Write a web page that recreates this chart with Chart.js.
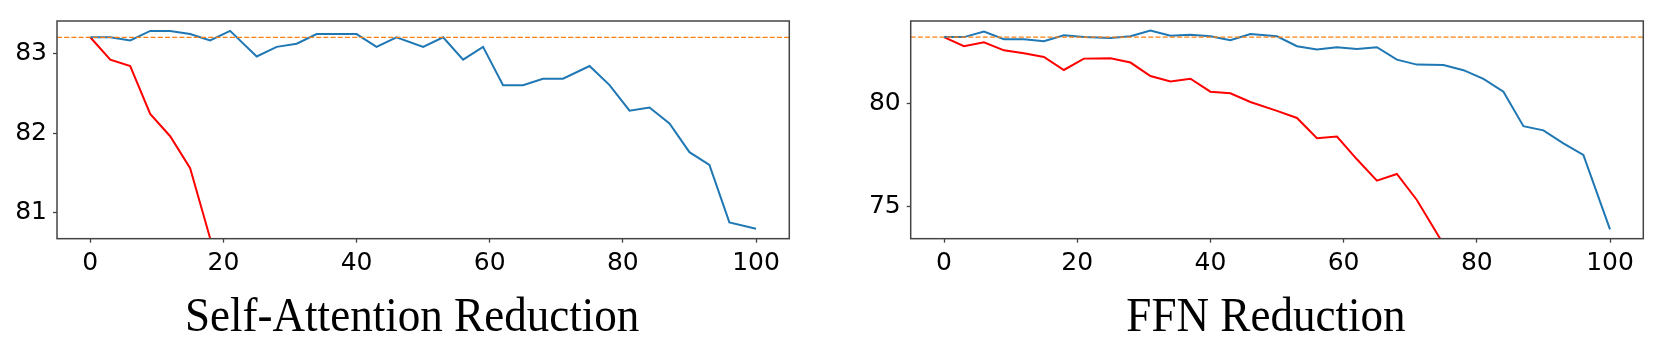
<!DOCTYPE html>
<html><head><meta charset="utf-8">
<script src="https://cdn.jsdelivr.net/npm/chart.js@4.4.0/dist/chart.umd.min.js"></script>
<style>
html,body{margin:0;padding:0;background:#fff;}
#wrap{position:relative;width:1661px;height:344px;overflow:hidden;}
canvas{position:absolute;top:0;}
</style></head><body>
<div id="wrap">
<canvas id="c1" width="830" height="344" style="left:0"></canvas>
<canvas id="c2" width="831" height="344" style="left:830px"></canvas>
</div>
<script>
// ---- data ----
const reductionPct = [0,3,6,9,12,15,18,21,25,28,31,34,37,40,43,46,50,53,56,59,62,65,68,71,75,78,81,84,87,90,93,96,100];
const saBlue = [83.20,83.20,83.16,83.28,83.28,83.24,83.16,83.28,82.96,83.08,83.12,83.24,83.24,83.24,83.08,83.20,83.08,83.20,82.92,83.08,82.60,82.60,82.68,82.68,82.84,82.60,82.28,82.32,82.12,81.76,81.60,80.88,80.80];
const saRed = [83.20,82.92,82.84,82.24,81.96,81.56,80.68];
const ffnBlue = [83.20,83.20,83.47,83.10,83.10,83.00,83.29,83.21,83.16,83.24,83.52,83.27,83.32,83.24,83.05,83.35,83.24,82.76,82.60,82.71,82.63,82.71,82.11,81.87,81.85,81.60,81.18,80.56,78.89,78.69,78.06,77.50,73.90];
const ffnRed = [83.20,82.76,82.95,82.56,82.42,82.24,81.61,82.16,82.18,81.97,81.32,81.05,81.19,80.56,80.48,80.06,79.63,79.29,78.31,78.39,77.29,76.26,76.58,75.32,73.18];
const baselineAcc = 83.2;
const xTickValues = [0,20,40,60,80,100];
const saYTicks = [81,82,83];
const ffnYTicks = [75,80];
const saTitle = "Self-Attention Reduction";
const ffnTitle = "FFN Reduction";

function pts(ys){ return ys.map((y,i)=>({x:reductionPct[i], y:y})); }

const decor = {
  id:'decor',
  afterDatasetsDraw(chart, args, o){
    const ctx = chart.ctx, a = chart.chartArea, ys = chart.scales.y;
    const py = ys.getPixelForValue(o.baseline);
    ctx.save();
    ctx.strokeStyle = '#ff7f0e'; ctx.lineWidth = 1.3; ctx.setLineDash([5,2.2]);
    ctx.beginPath(); ctx.moveTo(a.left, py); ctx.lineTo(a.right, py); ctx.stroke();
    ctx.restore();
    ctx.save();
    ctx.strokeStyle = '#444'; ctx.lineWidth = 1.5;
    ctx.strokeRect(a.left, a.top, a.right-a.left, a.bottom-a.top);
    ctx.restore();
  },
  afterDraw(chart, args, o){
    const ctx = chart.ctx, a = chart.chartArea;
    ctx.save();
    ctx.fillStyle = '#000';
    ctx.font = '49px "Liberation Serif", "Times New Roman", serif';
    ctx.textAlign = 'center'; ctx.textBaseline = 'alphabetic';
    ctx.translate((a.left+a.right)/2 - 11, 330.7);
    ctx.scale(0.92, 1);
    ctx.fillText(o.title, 0, 0);
    ctx.restore();
  }
};

function makeChart(id, blue, red, yTicks, ymin, ymax, title, yW, padR){
  return new Chart(document.getElementById(id), {
    type:'line',
    data:{ datasets:[
      {data:pts(blue), borderColor:'#1f77b4', borderWidth:2, pointRadius:0, tension:0, clip:0},
      {data:pts(red), borderColor:'#ff0000', borderWidth:2, pointRadius:0, tension:0, clip:0}
    ]},
    options:{
      responsive:false, animation:false, devicePixelRatio:1,
      layout:{padding:{top:21, right:padR, left:0, bottom:0}},
      plugins:{legend:{display:false}, tooltip:{enabled:false}, decor:{baseline:baselineAcc, title:title}},
      scales:{
        x:{type:'linear', min:-5, max:105,
           afterBuildTicks(s){ s.ticks = xTickValues.map(v=>({value:v})); },
           afterFit(s){ s.height = 344 - 238.67; },
           grid:{drawOnChartArea:false, tickLength:4, tickColor:'#444', tickWidth:1.3},
           border:{display:false},
           ticks:{font:{family:'"DejaVu Sans"', size:25}, color:'#000', padding:6, maxRotation:0, autoSkip:false}
        },
        y:{type:'linear', min:ymin, max:ymax,
           afterBuildTicks(s){ s.ticks = yTicks.map(v=>({value:v})); },
           afterFit(s){ s.width = yW; },
           grid:{drawOnChartArea:false, tickLength:4, tickColor:'#444', tickWidth:1.3},
           border:{display:false},
           ticks:{font:{family:'"DejaVu Sans"', size:25}, color:'#000', padding:6}
        }
      }
    },
    plugins:[decor]
  });
}

makeChart('c1', saBlue, saRed, saYTicks, 80.676, 83.404, saTitle, 57, 40.7);
makeChart('c2', ffnBlue, ffnRed, ffnYTicks, 73.45, 83.98, ffnTitle, 80.7, 17.7);
</script>
</body></html>
